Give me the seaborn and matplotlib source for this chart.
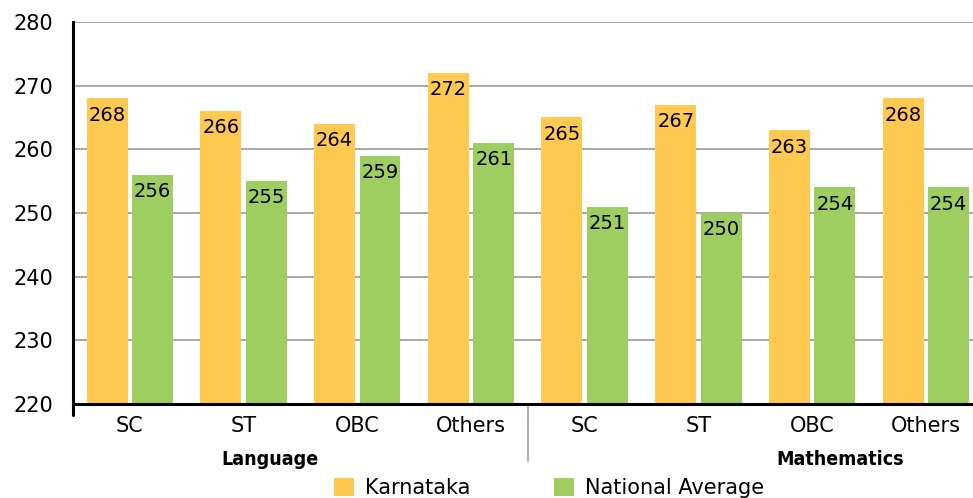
import matplotlib
matplotlib.use("Agg")
import matplotlib.pyplot as plt
import matplotlib.transforms as mtransforms
import numpy as np
import pandas as pd
import seaborn as sns

subjects = ["Language", "Mathematics"]
groups = ["SC", "ST", "OBC", "Others"]
karnataka = [268, 266, 264, 272, 265, 267, 263, 268]
national = [256, 255, 259, 261, 251, 250, 254, 254]
series = ["Karnataka", "National Average"]
colors = ["#FFC94F", "#9ECE5F"]

keys = [s + " " + g for s in subjects for g in groups]
df = pd.DataFrame({
    "key": keys * 2,
    "score": karnataka + national,
    "series": [series[0]] * len(keys) + [series[1]] * len(keys),
})

sns.set_style("white")
plt.rcParams["font.family"] = ["DejaVu Sans"]
plt.rcParams["text.color"] = "black"
plt.rcParams["xtick.labelcolor"] = "black"
plt.rcParams["ytick.labelcolor"] = "black"

fig = plt.figure(figsize=(9.73, 4.98), dpi=100)
ax = fig.add_axes([0.075, 0.189, 0.935, 0.767])

sns.barplot(data=df, x="key", y="score", hue="series", order=keys,
            hue_order=series, palette=colors, width=0.8, gap=0.1,
            saturation=1, linewidth=0, ax=ax, legend=True)

ax.set_ylim(220, 280)
ax.set_xlim(-0.5, 7.5)
ax.set_yticks(np.arange(220, 281, 10))
ax.yaxis.grid(True, color="#A8A8A8", linewidth=1.4)
ax.set_axisbelow(True)
ax.set_xlabel("")
ax.set_ylabel("")

# bar value labels
for cont in ax.containers:
    ax.bar_label(cont, labels=[f"{int(v)}" for v in cont.datavalues],
                 padding=-19, fontsize=14, color="black")

for sp in ["top", "right"]:
    ax.spines[sp].set_visible(False)
for sp in ["left", "bottom"]:
    ax.spines[sp].set_color("black")
    ax.spines[sp].set_linewidth(2.2)

ax.tick_params(axis="y", length=10, width=1.6, color="black", labelsize=15, pad=4)
ax.set_xticks(range(len(keys)))
ax.set_xticklabels(groups * 2, fontsize=15)
ax.tick_params(axis="x", which="major", length=0, pad=9)
ax.set_xticks(np.arange(0.5, 7.5, 1), minor=True)
ax.tick_params(axis="x", which="minor", length=10, width=1.2, color="#A0A0A0")

trans = mtransforms.blended_transform_factory(ax.transData, ax.transAxes)
# long separator between subjects
ax.plot([3.5, 3.5], [0, -0.15], transform=trans, color="#A0A0A0",
        linewidth=1.2, clip_on=False)
# left spine stub below the axis
ax.plot([-0.5, -0.5], [0, -0.03], transform=trans, color="black",
        linewidth=2.2, clip_on=False)

for xpos, name in zip([1.23, 6.25], subjects):
    ax.text(xpos, -0.145, name, transform=trans, ha="center", va="center",
            fontsize=14, fontweight="bold", fontstretch="condensed",
            family=["DejaVu Sans"])

ax.legend(title=None, loc="center", bbox_to_anchor=(0.564, 0.02),
          bbox_transform=fig.transFigure, ncol=2, frameon=False,
          fontsize=15, handlelength=1.0, handleheight=1.0,
          handletextpad=0.5, columnspacing=4.0, borderaxespad=0)

fig.savefig("out.png", dpi=100)
